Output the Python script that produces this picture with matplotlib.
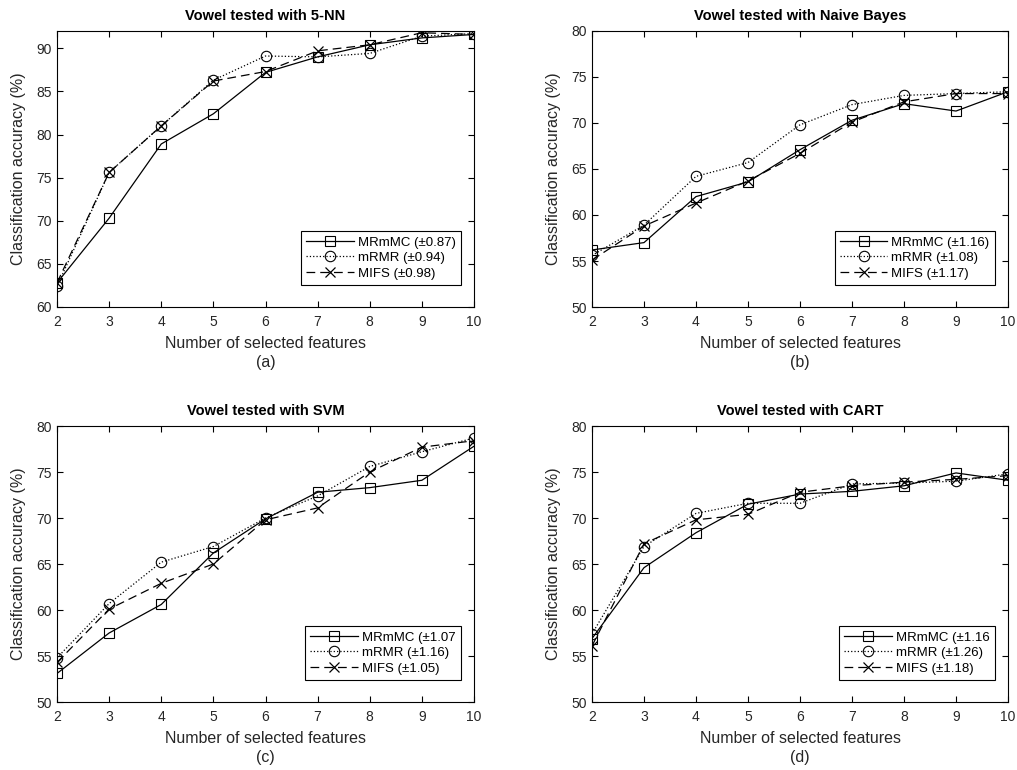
import numpy as np
import matplotlib.pyplot as plt

plt.rcParams['font.family'] = ['Liberation Sans', 'DejaVu Sans']

features = [2, 3, 4, 5, 6, 7, 8, 9, 10]

# 5-NN
knn_mrmmc = [62.8, 70.3, 78.9, 82.4, 87.2, 89.0, 90.4, 91.2, 91.6]
knn_mrmr = [62.4, 75.6, 81.0, 86.3, 89.1, 89.0, 89.4, 91.4, 91.7]
knn_mifs = [62.8, 75.6, 81.0, 86.2, 87.3, 89.7, 90.4, 91.8, 91.6]

# Naive Bayes
nb_mrmmc = [56.2, 57.0, 62.0, 63.6, 67.1, 70.3, 72.1, 71.3, 73.4]
nb_mrmr = [55.6, 58.9, 64.2, 65.7, 69.8, 72.0, 73.0, 73.2, 73.4]
nb_mifs = [55.1, 58.8, 61.3, 63.7, 66.7, 70.1, 72.3, 73.2, 73.2]

# SVM
svm_mrmmc = [53.1, 57.5, 60.6, 66.2, 69.9, 72.8, 73.3, 74.1, 77.8]
svm_mrmr = [54.8, 60.7, 65.2, 66.9, 70.0, 72.4, 75.6, 77.2, 78.7]
svm_mifs = [54.3, 60.1, 62.9, 65.0, 69.8, 71.1, 75.0, 77.7, 78.4]

# CART
cart_mrmmc = [56.9, 64.6, 68.4, 71.5, 72.6, 72.9, 73.5, 74.9, 74.1]
cart_mrmr = [57.4, 66.9, 70.5, 71.6, 71.6, 73.7, 73.8, 74.0, 74.8]
cart_mifs = [56.1, 67.2, 69.8, 70.4, 72.8, 73.5, 73.9, 74.2, 74.6]

titles = ['Vowel tested with 5-NN', 'Vowel tested with Naive Bayes',
          'Vowel tested with SVM', 'Vowel tested with CART']
panel_tags = ['(a)', '(b)', '(c)', '(d)']
legend_labels = [
    ['MRmMC (\u00b10.87)', 'mRMR (\u00b10.94)', 'MIFS (\u00b10.98)'],
    ['MRmMC (\u00b11.16)', 'mRMR (\u00b11.08)', 'MIFS (\u00b11.17)'],
    ['MRmMC (\u00b11.07', 'mRMR (\u00b11.16)', 'MIFS (\u00b11.05)'],
    ['MRmMC (\u00b11.16', 'mRMR (\u00b11.26)', 'MIFS (\u00b11.18)'],
]
series = [
    (knn_mrmmc, knn_mrmr, knn_mifs),
    (nb_mrmmc, nb_mrmr, nb_mifs),
    (svm_mrmmc, svm_mrmr, svm_mifs),
    (cart_mrmmc, cart_mrmr, cart_mifs),
]
ylims = [(60, 92), (50, 80), (50, 80), (50, 80)]
yticks = [np.arange(60, 91, 5), np.arange(50, 81, 5),
          np.arange(50, 81, 5), np.arange(50, 81, 5)]

# axes boxes in figure fractions (left, bottom, width, height)
W, H = 1017, 770
boxes = [
    (57 / W, (H - 307) / H, 417 / W, 276 / H),
    (592 / W, (H - 307) / H, 416 / W, 276 / H),
    (57 / W, (H - 702) / H, 417 / W, 276 / H),
    (592 / W, (H - 702) / H, 416 / W, 276 / H),
]

tick_gray = '#262626'

fig = plt.figure(figsize=(W / 100, H / 100), dpi=100)

for i in range(4):
    ax = fig.add_axes(boxes[i])
    a, b, c = series[i]
    ax.plot(features, a, '-', color='black', lw=0.9, marker='s', ms=7,
            mfc='none', mec='black', mew=0.8, label=legend_labels[i][0])
    ax.plot(features, b, ':', color='black', lw=0.9, marker='o', ms=7.5,
            mfc='none', mec='black', mew=0.8, label=legend_labels[i][1])
    ax.plot(features, c, '--', color='black', lw=0.9, marker='x', ms=7,
            mew=0.9, dashes=(7, 4), label=legend_labels[i][2])

    ax.set_xlim(2, 10)
    ax.set_ylim(*ylims[i])
    ax.set_xticks(features)
    ax.set_yticks(yticks[i])
    ax.tick_params(direction='in', top=True, right=True, length=4,
                   labelsize=10, labelcolor=tick_gray, width=0.8)
    ax.tick_params(axis='x', pad=6)
    for sp in ax.spines.values():
        sp.set_linewidth(0.8)
    ax.set_title(titles[i], fontsize=10.5, fontweight='bold', pad=8)
    ax.set_xlabel('Number of selected features', fontsize=11.5,
                  color=tick_gray, labelpad=5)
    ax.set_ylabel('Classification accuracy (%)', fontsize=11.5,
                  color=tick_gray, labelpad=8)
    ax.text(0.5, -0.175, panel_tags[i], transform=ax.transAxes,
            ha='center', va='top', fontsize=11.5, color=tick_gray)

    leg = ax.legend(loc='lower right', bbox_to_anchor=(0.968, 0.08),
                    fontsize=9.5, handlelength=3.6, fancybox=False,
                    edgecolor='black', framealpha=1, borderpad=0.4,
                    labelspacing=0.25, handletextpad=0.3, borderaxespad=0)
    leg.get_frame().set_linewidth(0.8)

fig.savefig('out.png', dpi=100)
